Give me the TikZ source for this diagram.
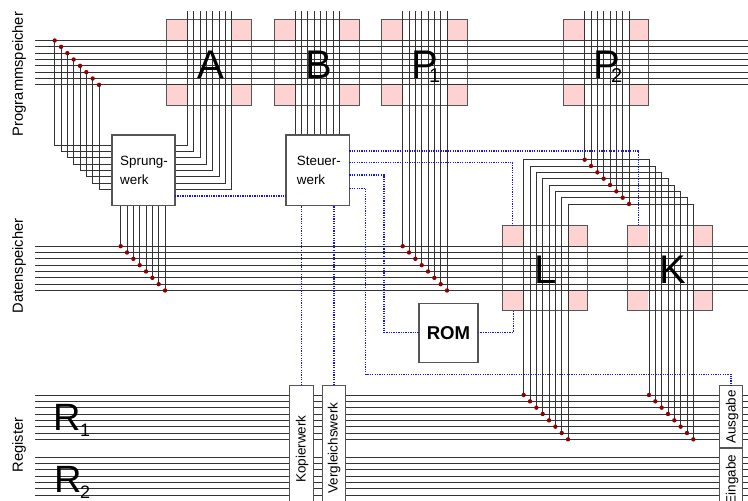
\documentclass[tikz,border=0pt]{standalone}
\usepackage{fontspec}
\setmainfont{Liberation Sans}
\definecolor{wire}{HTML}{333333}
\definecolor{edge}{HTML}{555555}
\definecolor{pinkcell}{HTML}{FFD2D2}
\definecolor{tapdot}{HTML}{8B0000}
\definecolor{ctlblue}{HTML}{1414E6}
\tikzset{
  wireline/.style={draw=wire,line width=0.95pt},
  ctl/.style={draw=ctlblue,line width=1.4pt,dash pattern=on 1.3pt off 1.1pt},
  unit/.style={draw=edge,line width=1.1pt,fill=white,inner sep=0pt,outer sep=0pt},
  memcell/.style={draw=edge,line width=1.1pt,inner sep=0pt,outer sep=0pt,minimum width=85.4pt,minimum height=85.4pt},
  tap/.style={circle,fill=tapdot,inner sep=0pt,minimum size=4.4pt},
  big/.style={inner sep=0pt,anchor=base west,font=\fontsize{40}{40}\selectfont},
  small/.style={inner sep=0pt,anchor=base west,font=\fontsize{20}{20}\selectfont},
  rlab/.style={inner sep=0pt,anchor=base,rotate=90,font=\fontsize{14.7}{16}\selectfont},
  ulab/.style={inner sep=0pt,anchor=base,rotate=90,font=\fontsize{13.5}{15}\selectfont},
  tlab/.style={inner sep=0pt,anchor=base west,font=\fontsize{13.4}{15}\selectfont}
}
\newcommand{\corners}[1]{%
  \fill[pinkcell] (#1.north west) rectangle ++(20.3,20.3);
  \fill[pinkcell] (#1.north east) rectangle ++(-20.3,20.3);
  \fill[pinkcell] (#1.south west) rectangle ++(20.3,-20.3);
  \fill[pinkcell] (#1.south east) rectangle ++(-20.3,-20.3);
  \node[memcell] at (#1) {};}
\begin{document}
\begin{tikzpicture}[x=1pt,y=-1pt]
\useasboundingbox (0,0) rectangle (748,501);
\clip (0,0) rectangle (748,501);
% memory cells
\node[memcell] (A) at (209,62.35) {};
\node[memcell] (B) at (316.9,62.35) {};
\node[memcell] (P1) at (424.5,62.35) {};
\node[memcell] (P2) at (606.2,62.35) {};
\node[memcell] (L) at (545.2,268) {};
\node[memcell] (K) at (670.2,268) {};
\corners{A}\corners{B}\corners{P1}\corners{P2}\corners{L}\corners{K}
% buses
\foreach \i in {0,...,7}{
  \coordinate (pw\i) at (35,{40.5+\i*6.3333});
  \coordinate (pe\i) at (748,{40.5+\i*6.3333});
  \coordinate (dw\i) at (35,{246.17+\i*6.3333});
  \coordinate (de\i) at (748,{246.17+\i*6.3333});
  \coordinate (aw\i) at (35,{395+\i*6.3333});
  \coordinate (ae\i) at (748,{395+\i*6.3333});
  \coordinate (bw\i) at (35,{457+\i*6.3333});
  \coordinate (be\i) at (748,{457+\i*6.3333});
  \draw[wireline] (pw\i) -- (pe\i);
  \draw[wireline] (dw\i) -- (de\i);
  \draw[wireline] (aw\i) -- (ae\i);
  \draw[wireline] (bw\i) -- (be\i);
}
% boxes
\node[unit,minimum width=63pt,minimum height=70.3pt] (sprung) at (143.5,170.15) {};
\node[unit,minimum width=63.3pt,minimum height=70.3pt] (steuer) at (317.65,170.15) {};
\node[unit,minimum width=59pt,minimum height=59pt] (rom) at (448.5,332.8) {};
% wires
\foreach \i in {0,...,7}{
  \coordinate (t1\i) at ({54.7+\i*6.3333},{40.5+\i*6.3333});
  \coordinate (s1\i) at (112,{145.3+\i*6.3333});
  \draw[wireline] (t1\i) |- (s1\i);
  \coordinate (s2\i) at (175,{145.3+\i*6.3333});
  \coordinate (a\i) at ({187.5+\i*6.3333},10.7);
  \draw[wireline] (s2\i) -| (a\i);
  \coordinate (t2\i) at ({120.7+\i*6.3333},{246.17+\i*6.3333});
  \draw[wireline] (t2\i |- sprung.south) -- (t2\i);
  \coordinate (b\i) at ({295+\i*6.3333},10.7);
  \draw[wireline] (b\i) -- (b\i |- steuer.north);
  \coordinate (p\i) at ({402.7+\i*6.3333},10.7);
  \coordinate (t3\i) at ({402.7+\i*6.3333},{246.17+\i*6.3333});
  \draw[wireline] (p\i) -- (t3\i);
  \coordinate (q\i) at ({584.7+\i*6.3333},10.7);
  \coordinate (t4\i) at ({584.7+\i*6.3333},{159.7+\i*6.3333});
  \draw[wireline] (q\i) -- (t4\i);
  \coordinate (t5\i) at ({523.7+\i*6.3333},{395+\i*6.3333});
  \coordinate (t6\i) at ({649+\i*6.3333},{395+\i*6.3333});
  \draw[wireline] (t5\i) |- (t4\i) -| (t6\i);
}
\foreach \i in {0,...,7}{
  \node[tap] (d1\i) at (t1\i) {};
  \node[tap] (d2\i) at (t2\i) {};
  \node[tap] (d3\i) at (t3\i) {};
  \node[tap] (d4\i) at (t4\i) {};
  \node[tap] (d5\i) at (t5\i) {};
  \node[tap] (d6\i) at (t6\i) {};
}
% white units over the register lines
\node[unit,minimum width=23.7pt,minimum height=130pt,anchor=north] (kop) at (301.2,385.2) {};
\node[unit,minimum width=23.7pt,minimum height=130pt,anchor=north] (ver) at (333.9,385.2) {};
\node[unit,minimum width=23.7pt,minimum height=62.8pt,anchor=north] (aus) at (730.9,385.2) {};
\node[unit,minimum width=23.7pt,minimum height=70pt,anchor=north] (ein) at (730.9,448) {};
\node[unit,minimum width=63pt,minimum height=70.3pt] at (sprung) {};
\node[unit,minimum width=63.3pt,minimum height=70.3pt] at (steuer) {};
% control lines
\draw[ctl] (sprung.east |- 0,196) -- (steuer.west |- 0,196);
\draw[ctl] (steuer.east |- 0,151) -| (638.7,0 |- K.north);
\draw[ctl] (steuer.east |- 0,162.7) -| (512.7,0 |- L.north);
\draw[ctl] (steuer.east |- 0,175) -| (384,332.5) -- (rom.west |- 0,332.5);
\draw[ctl] (steuer.east |- 0,188.3) -| (365.7,374.3) -| (aus.north);
\draw[ctl] (rom.east |- 0,332.2) -| (513.3,0 |- L.south);
\draw[ctl] (kop.north) -- (kop.north |- steuer.south);
\draw[ctl] (ver.north) -- (ver.north |- steuer.south);
% labels
\node[big] (la) at (197,78) {A};
\node[big] (lb) at (305,78) {B};
\node[big] (lp1) at (411,78) {P};
\node[small] (lp1s) at (429,82.7) {1};
\node[big] (lp2) at (593,78) {P};
\node[small] (lp2s) at (611,82.7) {2};
\node[big] (ll) at (534,283.5) {L};
\node[big] (lk) at (659,283.5) {K};
\node[inner sep=0pt,anchor=base west,font=\fontsize{38}{38}\selectfont] (lr1) at (53,430) {R};
\node[small,font=\fontsize{18}{18}\selectfont] (lr1s) at (80,436) {1};
\node[inner sep=0pt,anchor=base west,font=\fontsize{38}{38}\selectfont] (lr2) at (54,492.7) {R};
\node[small,font=\fontsize{18}{18}\selectfont] (lr2s) at (80,498.5) {2};
\node[tlab] (l1) at (120,165.7) {Sprung-};
\node[tlab] (l2) at (120,184) {werk};
\node[tlab] (l3) at (296.7,165.7) {Steuer-};
\node[tlab] (l4) at (296.7,184) {werk};
\node[inner sep=0pt,anchor=base,font=\fontsize{18.6}{20}\selectfont\bfseries] (l5) at (448.5,339.3) {ROM};
\node[rlab] (r1) at (23,74) {Programmspeicher};
\node[rlab] (r2) at (23,266) {Datenspeicher};
\node[rlab] (r3) at (23,445) {Register};
\node[ulab] (u1) at (305.5,449) {Kopierwerk};
\node[ulab] (u2) at (337.5,448) {Vergleichswerk};
\node[ulab] (u3) at (735.5,417) {Ausgabe};
\node[ulab] (u4) at (735.5,479.7) {Eingabe};
\end{tikzpicture}
\end{document}
